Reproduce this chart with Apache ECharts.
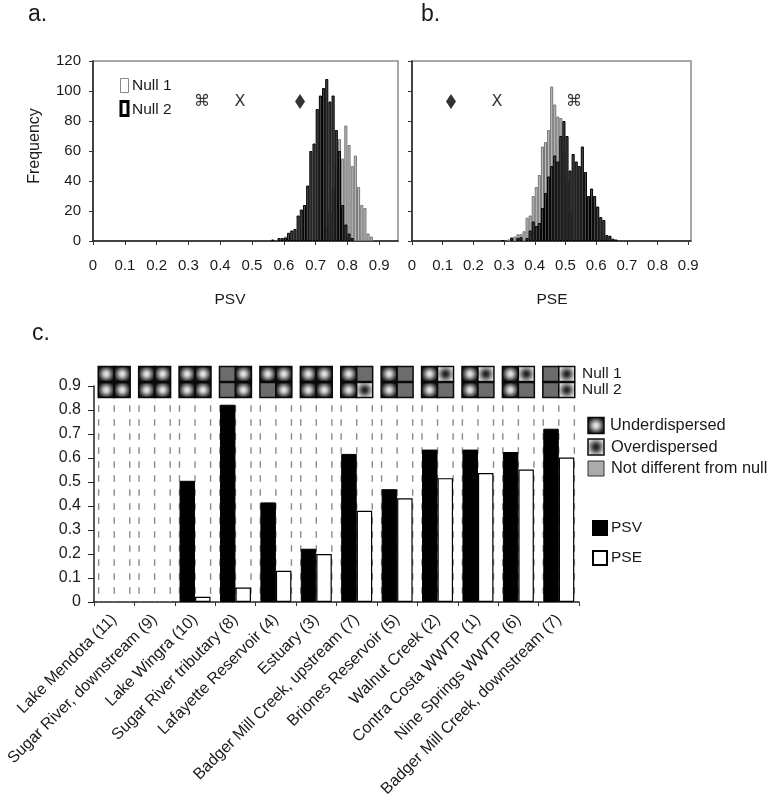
<!DOCTYPE html>
<html><head><meta charset="utf-8">
<style>html,body{margin:0;padding:0;background:#fff}#c{width:778px;height:812px}</style>
<script src="https://cdn.jsdelivr.net/npm/echarts@6/dist/echarts.min.js"></script>
</head><body><div id="c"></div>
<script>
// Panel a: histogram of PSV, [bin centre, frequency]
const psvNull1 = [[0.605,3],[0.735,10],[0.745,20],[0.755,35],[0.765,50],[0.775,68],[0.785,55],[0.795,77],[0.805,64],[0.815,50],[0.825,57],[0.835,36],[0.845,24],[0.855,22],[0.865,5],[0.875,3]];
const psvNull2 = [[0.565,1],[0.585,2],[0.595,2],[0.605,2],[0.615,5.5],[0.625,7],[0.635,8],[0.645,17],[0.655,21],[0.665,24],[0.675,37],[0.685,60],[0.695,65],[0.705,88],[0.715,97],[0.725,102],[0.735,108],[0.745,93],[0.755,97],[0.765,74],[0.775,60],[0.785,24],[0.795,11],[0.805,5],[0.815,2]];
// Panel b: histogram of PSE
const pseNull1 = [[0.295,0.5],[0.315,1],[0.325,2.5],[0.335,3],[0.345,4.5],[0.355,4.5],[0.365,6.5],[0.375,15.5],[0.385,17],[0.395,30],[0.405,36],[0.415,44],[0.425,63],[0.435,66],[0.445,74],[0.455,103],[0.465,91],[0.475,83],[0.485,82],[0.495,60],[0.505,40],[0.515,20]];
const pseNull2 = [[0.295,0.5],[0.325,2],[0.345,2],[0.355,2.5],[0.375,2],[0.385,7],[0.395,13],[0.405,10],[0.415,12],[0.425,22],[0.435,32],[0.445,43],[0.455,50],[0.465,57],[0.475,53],[0.485,70],[0.495,80],[0.505,70],[0.515,47],[0.525,58],[0.535,53],[0.545,50],[0.555,63],[0.565,46],[0.575,30],[0.585,35],[0.595,30],[0.605,23],[0.615,16],[0.625,14],[0.635,4],[0.645,3.5],[0.655,1.5],[0.665,1]];
// Observed values marked in panels a and b: [x, y, glyph]
const psvMarks = [[0.343,93,'⌘'],[0.462,93,'X'],[0.651,93,'◆']];
const pseMarks = [[0.127,93,'◆'],[0.277,93,'X'],[0.528,93,'⌘']];
// Panel c
const sites = ['Lake Mendota (11)','Sugar River, downstream (9)','Lake Wingra (10)','Sugar River tributary (8)','Lafayette Reservoir (4)','Estuary (3)','Badger Mill Creek, upstream (7)','Briones Reservoir (5)','Walnut Creek (2)','Contra Costa WWTP (1)','Nine Springs WWTP (6)','Badger Mill Creek, downstream (7)'];
const psv = [null,null,0.505,0.822,0.415,0.222,0.617,0.47,0.635,0.635,0.625,0.722];
const pse = [null,null,0.022,0.06,0.13,0.2,0.38,0.432,0.516,0.537,0.552,0.602];
const dashTop = [0.82,0.82,0.82,0.82,0.82,0.82,0.82,0.82,0.82,0.82,0.82,0.82];
// Dispersion states, U under, O over, N not different; two letters per site: PSV then PSE
const null1States = ['UU','UU','UU','NU','UU','UU','UN','UN','UO','UO','UO','NO'];
const null2States = ['UU','UU','UU','NU','NU','UU','UO','UN','UN','UN','UN','NO'];
const rowNames = ['Null 2','Null 1'];

const FONT = '"Liberation Sans",Arial,sans-serif';
const TXT = '#1a1a1a';
const chart = echarts.init(document.getElementById('c'));

function under(){return new echarts.graphic.RadialGradient(0.5,0.5,0.6,[{offset:0,color:'#eeeeee'},{offset:0.25,color:'#c8c8c8'},{offset:0.55,color:'#686868'},{offset:0.82,color:'#1c1c1c'},{offset:1,color:'#0a0a0a'}]);}
function over(){return new echarts.graphic.RadialGradient(0.5,0.5,0.7,[{offset:0,color:'#161616'},{offset:0.22,color:'#3c3c3c'},{offset:0.55,color:'#a8a8a8'},{offset:0.8,color:'#eeeeee'},{offset:1,color:'#ffffff'}]);}
function fillFor(s){return s==='U'?under():s==='O'?over():'#6c6c6c';}

const fmt = v => v===0?'0':String(+v.toFixed(1));
function histX(gi,right){return {type:'value',gridIndex:gi,min:0,max:right,interval:0.1,
  axisLine:{show:true,onZero:false,lineStyle:{color:'#222',width:1.5}},axisTick:{show:true,length:4,lineStyle:{color:'#333'}},
  splitLine:{show:false},axisLabel:{color:TXT,fontSize:15,fontFamily:FONT,margin:17,formatter:fmt,showMaxLabel:false}};}
function histY(gi,lab){return {type:'value',gridIndex:gi,min:0,max:120,interval:20,
  axisLine:{show:true,lineStyle:{color:'#222',width:1.5}},axisTick:{show:true,length:4,lineStyle:{color:'#333'}},splitLine:{show:false},
  axisLabel:{show:lab,color:TXT,fontSize:15,fontFamily:FONT,margin:12}};}
function hist(name,xi,data,fill,border,z){return {name,type:'bar',xAxisIndex:xi,yAxisIndex:xi,data,barWidth:3.1,barGap:'-100%',z,
  itemStyle:{color:fill,borderColor:border,borderWidth:1},animation:false};}
function marks(xi,data){return {type:'scatter',xAxisIndex:xi,yAxisIndex:xi,z:6,silent:true,animation:false,
  data:data.map(d=>d[2]==='◆'
    ?{value:d,symbol:'diamond',symbolSize:[10,15],itemStyle:{color:'#000'},label:{show:false}}
    :{value:d,symbol:'circle',symbolSize:1,itemStyle:{color:'transparent'}}),
  label:{show:true,position:'inside',color:'#000',fontSize:16,fontFamily:'"DejaVu Sans",'+FONT,formatter:p=>p.value[2]}};}

const option = {
  animation:false,backgroundColor:'#fff',
  grid:[
    {left:93,top:61,width:305,height:180,show:true,borderColor:'#8c8c8c',borderWidth:1.5,backgroundColor:'#fff',outerBoundsMode:'none'},
    {left:412,top:61,width:279,height:180,show:true,borderColor:'#8c8c8c',borderWidth:1.5,backgroundColor:'#fff',outerBoundsMode:'none'},
    {left:94,top:386,width:485,height:216,outerBoundsMode:'none'},
    {left:94,top:366,width:485,height:32,outerBoundsMode:'none'}
  ],
  xAxis:[histX(0,0.959),histX(1,0.909),
    {type:'category',gridIndex:2,data:sites,
      axisLine:{lineStyle:{color:'#222',width:1.5}},axisTick:{show:true,length:4,lineStyle:{color:'#333'}},
      axisLabel:{interval:0,rotate:45,color:TXT,fontSize:16,fontFamily:FONT,margin:15,lineHeight:30}},
    {type:'category',gridIndex:3,data:sites,show:false}],
  yAxis:[histY(0,true),histY(1,false),
    {type:'value',gridIndex:2,min:0,max:0.9,interval:0.1,
      axisLine:{show:true,lineStyle:{color:'#222',width:1.5}},axisTick:{show:true,length:6,lineStyle:{color:'#222'}},splitLine:{show:false},
      axisLabel:{color:TXT,fontSize:16,fontFamily:FONT,margin:13,formatter:fmt}},
    {type:'category',gridIndex:3,data:rowNames,position:'right',
      axisLine:{show:false},axisTick:{show:false},
      axisLabel:{interval:0,color:TXT,fontSize:15.5,fontFamily:FONT,margin:3,padding:[2,0,0,0]}}],
  legend:{orient:'vertical',left:592,top:520,itemWidth:14,itemHeight:14,itemGap:14,icon:'rect',data:['PSV','PSE'],
    textStyle:{color:TXT,fontSize:15.5,fontFamily:FONT,padding:[0,0,0,-1]},padding:0},
  series:[
    hist('Null 1 PSV',0,psvNull1,'#bcbcbc','#777',2),
    hist('Null 2 PSV',0,psvNull2,'#4a4a4a','#000',3),
    marks(0,psvMarks),
    hist('Null 1 PSE',1,pseNull1,'#bcbcbc','#777',2),
    hist('Null 2 PSE',1,pseNull2,'#4a4a4a','#000',3),
    marks(1,pseMarks),
    {type:'custom',xAxisIndex:2,yAxisIndex:2,z:1,silent:true,animation:false,data:dashTop.map((v,i)=>[i,v]),
      renderItem(params,api){
        const top=api.coord([api.value(0),api.value(1)]),base=api.coord([api.value(0),0]),w=api.size([1,0])[0];
        return {type:'group',children:[-0.385,0,0.385].map(k=>({type:'line',
          shape:{x1:top[0]+k*w,y1:top[1],x2:top[0]+k*w,y2:base[1]},
          style:{stroke:'#8a8a8a',lineWidth:1.4,lineDash:[6.5,7.5]}}))};
      }},
    {name:'PSV',type:'bar',xAxisIndex:2,yAxisIndex:2,data:psv,barWidth:15.5,barGap:'0%',z:3,
      itemStyle:{color:'#000',borderColor:'#000',borderWidth:1},animation:false},
    {name:'PSE',type:'bar',xAxisIndex:2,yAxisIndex:2,data:pse,barWidth:15.5,barGap:'0%',z:3,
      itemStyle:{color:'#fff',borderColor:'#000',borderWidth:1.2},animation:false},
    {type:'custom',xAxisIndex:3,yAxisIndex:3,z:4,silent:true,animation:false,
      data:rowNames.flatMap((r,ri)=>(ri===0?null2States:null1States).map((s,i)=>[i,ri])),
      renderItem(params,api){
        const c=api.coord([api.value(0),api.value(1)]);
        const st=(api.value(1)===0?null2States:null1States)[api.value(0)];
        const w=api.size([1,1]),cell=w[0]*0.395,h=w[1];
        return {type:'group',children:[0,1].map(j=>({type:'rect',
          shape:{x:c[0]-cell+j*cell,y:c[1]-h/2+0.5,width:cell,height:h-1},
          style:{fill:fillFor(st[j]),stroke:'#0a0a0a',lineWidth:1.5}}))};
      }}
  ],
  graphic:[
    {type:'text',left:28,top:3,style:{text:'a.',fontSize:23,fontFamily:FONT,fill:TXT}},
    {type:'text',left:421,top:3,style:{text:'b.',fontSize:23,fontFamily:FONT,fill:TXT}},
    {type:'text',left:32,top:322,style:{text:'c.',fontSize:23,fontFamily:FONT,fill:TXT}},
    {type:'text',x:35,y:146,rotation:Math.PI/2,style:{text:'Frequency',fontSize:16,fontFamily:FONT,fill:TXT,align:'center',verticalAlign:'middle'}},
    {type:'text',x:230,y:300,style:{text:'PSV',fontSize:15.5,fontFamily:FONT,fill:TXT,align:'center',verticalAlign:'middle'}},
    {type:'text',x:552,y:300,style:{text:'PSE',fontSize:15.5,fontFamily:FONT,fill:TXT,align:'center',verticalAlign:'middle'}},
    {type:'rect',z:10,shape:{x:120.5,y:78.5,width:8,height:14},style:{fill:'#fff',stroke:'#888',lineWidth:1}},
    {type:'rect',z:10,shape:{x:121,y:101.5,width:7,height:14},style:{fill:'#fff',stroke:'#000',lineWidth:3}},
    {type:'text',z:10,x:132,y:86,style:{text:'Null 1',fontSize:15.5,fontFamily:FONT,fill:TXT,verticalAlign:'middle'}},
    {type:'text',z:10,x:132,y:110,style:{text:'Null 2',fontSize:15.5,fontFamily:FONT,fill:TXT,verticalAlign:'middle'}},
    {type:'rect',shape:{x:588,y:417.5,width:16,height:16},style:{fill:under(),stroke:'#0a0a0a',lineWidth:1.5}},
    {type:'rect',shape:{x:588,y:439,width:16,height:16},style:{fill:over(),stroke:'#0a0a0a',lineWidth:1.5}},
    {type:'rect',shape:{x:588,y:461,width:16,height:15},style:{fill:'#ababab',stroke:'#333',lineWidth:1}},
    {type:'text',x:610,y:425.5,style:{text:'Underdispersed',fontSize:16.4,fontFamily:FONT,fill:TXT,verticalAlign:'middle'}},
    {type:'text',x:611,y:447.5,style:{text:'Overdispersed',fontSize:16.4,fontFamily:FONT,fill:TXT,verticalAlign:'middle'}},
    {type:'text',x:611,y:468.5,style:{text:'Not different from null',fontSize:16.4,fontFamily:FONT,fill:TXT,verticalAlign:'middle'}}
  ]
};
chart.setOption(option);
</script></body></html>
